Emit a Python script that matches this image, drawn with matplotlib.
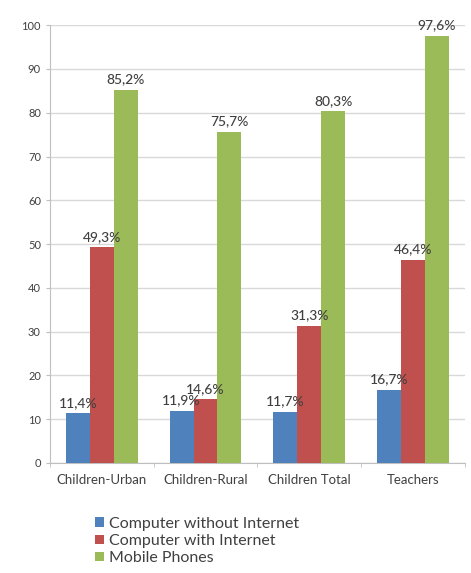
import matplotlib
matplotlib.use("Agg")
import matplotlib.pyplot as plt
import numpy as np

categories = ["Children-Urban", "Children-Rural", "Children Total", "Teachers"]
series_names = ["Computer without Internet", "Computer with Internet", "Mobile Phones"]
no_internet = [11.4, 11.9, 11.7, 16.7]
with_internet = [49.3, 14.6, 31.3, 46.4]
mobile = [85.2, 75.7, 80.3, 97.6]
colors = ["#4F81BD", "#C0504D", "#9BBB59"]

plt.rcParams['font.family'] = ['Lato', 'DejaVu Sans']
fig = plt.figure(figsize=(4.71, 5.73), dpi=100)
ax = fig.add_axes([0.106, 0.192, 0.881, 0.764])

x = np.arange(len(categories))
w = 0.23
txt = "#404040"
for i, (vals, c, name) in enumerate(zip([no_internet, with_internet, mobile], colors, series_names)):
    pos = x + (i - 1) * w
    ax.bar(pos, vals, width=w, color=c, label=name, zorder=3)
    for p, v in zip(pos, vals):
        ax.text(p, v + 1.0, f"{v:.1f}%".replace(".", ","), ha="center", va="bottom",
                fontsize=10, color=txt, fontweight="medium", zorder=4)

ax.set_xlim(-0.5, len(categories) - 0.5)
ax.set_ylim(0, 100)
ax.set_yticks(range(0, 101, 10))
ax.tick_params(axis='y', labelsize=8, colors=txt, length=3, color="#BFBFBF")
ax.set_xticks(x)
ax.set_xticklabels(categories, fontsize=9.5, color=txt)
ax.tick_params(axis='x', length=0, pad=8)
ax.set_xticks(np.arange(-0.5, len(categories), 1), minor=True)
ax.tick_params(axis='x', which='minor', length=3, color="#BFBFBF")
ax.grid(axis='y', color="#D9D9D9", linewidth=1, zorder=0)
for s in ['top', 'right']:
    ax.spines[s].set_visible(False)
for s in ['left', 'bottom']:
    ax.spines[s].set_color("#BFBFBF")

handles, labels = ax.get_legend_handles_labels()
leg = fig.legend(handles, labels, loc="upper left", bbox_to_anchor=(0.185, 0.112),
                 frameon=False, fontsize=11.5, handlelength=0.55, handleheight=0.55,
                 handletextpad=0.3, labelspacing=0.2, borderpad=0)
for t in leg.get_texts():
    t.set_color(txt)

fig.savefig("out.png", dpi=100, facecolor="white")
